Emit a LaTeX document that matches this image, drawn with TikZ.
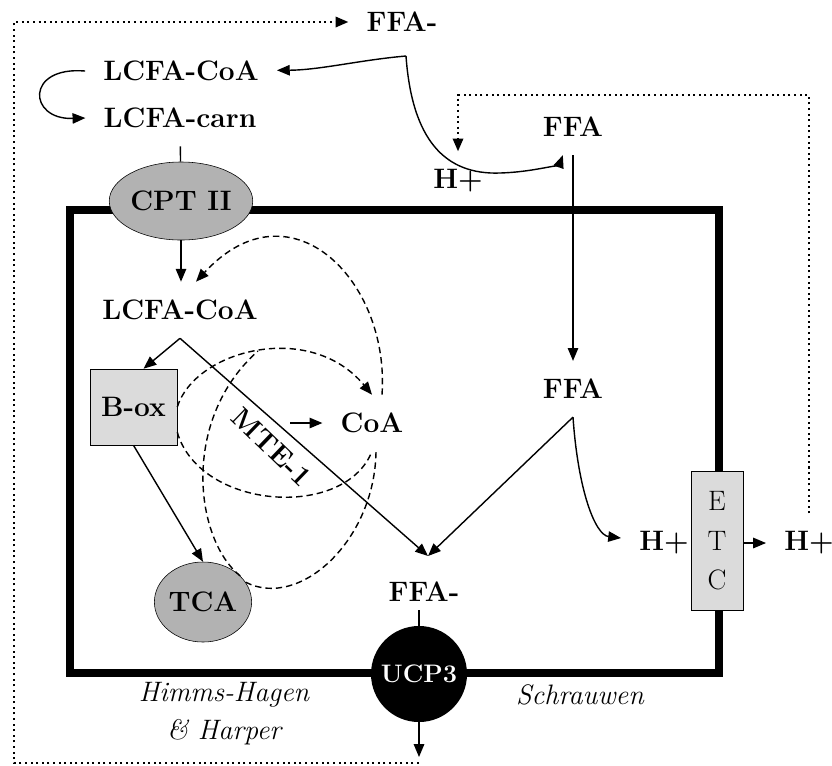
\documentclass[tikz,border=0pt]{standalone}
\usepackage{fontspec}
\usepackage{tikz}
\usetikzlibrary{positioning,arrows.meta,shapes.geometric}

\begin{document}
\begin{tikzpicture}[x=0.025cm,y=-0.025cm,>={Triangle[length=3.2mm,width=2.6mm]},
  lbl/.style={font=\bfseries\fontsize{20}{24}\selectfont,inner sep=4.5mm},
  note/.style={font=\itshape\fontsize{20}{27}\selectfont,align=center},
  flow/.style={line width=1pt},
  recyc/.style={line width=1pt,dash pattern=on 1.6mm off 1mm},
  loopline/.style={line width=1.5pt,dash pattern=on 0.5mm off 0.9mm},
  membrane/.style={line width=1.8mm},
  enzyme/.style={ellipse,draw,fill=black!30,font=\bfseries\fontsize{20}{24}\selectfont,inner sep=0pt},
  pathway/.style={rectangle,draw,fill=black!14,font=\bfseries\fontsize{20}{24}\selectfont}]
\useasboundingbox (0,0) rectangle (832,765);
\draw[membrane] (70,210) rectangle (719,673);

\node (ffatop) [lbl] at (402,22) {FFA-};
\node (lcoaout) [lbl] at (181,71) {LCFA-CoA};
\node (lcarn) [lbl] at (180,118) {LCFA-carn};
\node (cpt) [enzyme,minimum width=3cm,minimum height=1.95cm] at (181,201) {CPT II};
\node (lcoain) [lbl] at (180,310) {LCFA-CoA};
\node (box) [pathway,minimum width=2.175cm,minimum height=1.9cm] at (133.5,407) {B-ox};
\node (coa) [lbl] at (372,423) {CoA};
\node (mte) [lbl,inner sep=0pt,rotate=-44] at (272,447) {MTE-1};
\node (tca) [enzyme,minimum width=2.25cm,minimum height=2cm] at (203,602) {TCA};
\node (ffaout) [lbl] at (573,127) {FFA};
\node (hout) [lbl] at (458,181) {H+};
\node (ffain) [lbl] at (573,389) {FFA};
\node (ffam) [lbl,inner ysep=2mm] at (424,592) {FFA-};
\node (ucp) [circle,fill=black,text=white,font=\bfseries\fontsize{18}{22}\selectfont,minimum size=2.4cm,inner sep=0pt] at (419,674) {UCP3};
\node (hin) [lbl] at (664,543) {H+};
\node (etc) [pathway,font=\fontsize{20}{28}\selectfont,align=center,minimum width=1.3cm,minimum height=3.475cm] at (717,541) {E\\T\\C};
\node (hright) [lbl] at (809,543) {H+};
\node (hh) [note] at (224,714) {Himms-Hagen\\\& Harper};
\node (schr) [note] at (580,695) {Schrauwen};

\coordinate (fork) at (406,56);
\coordinate (ucpout) at (419,757);
\coordinate (ucpdot) at (419,763);
\coordinate (dotcorner) at (14,22);
\coordinate (etcup) at (809,95);
\coordinate (ffamtop) at (428,556);
\coordinate (mtearrow) at (290,423);
\coordinate (merge) at (258,351);

\draw[flow,->] (ucp) -- (ucpout);
\draw[loopline,->] (ucpdot) -| (dotcorner) -- (ffatop);
\draw[flow,->] (fork) .. controls (360,60) and (320,70) .. (lcoaout);
\draw[flow,->] (fork) .. controls (412,140) and (445,175) .. (500,173) .. controls (535,172) and (560,163) .. (ffaout);
\draw[flow,->] (ffaout) -- (ffain);
\draw[loopline,->] (hright) -- (etcup) -| (hout);
\draw[flow,->] (lcoaout.west) .. controls (25,66) and (28,120) .. (lcarn.west);
\draw[flow] (lcarn) -- (cpt);
\draw[flow,->] (cpt.south) -- (cpt.south |- lcoain.north);
\draw[flow,->] (lcoain.south) -- ([xshift=2.5mm]box.north);
\draw[flow,->] (lcoain.south) -- (ffamtop);
\draw[flow,->] (ffain.south) -- (ffamtop);
\draw[flow,->] (ffain.south) .. controls (578,490) and (595,535) .. (hin);
\draw[flow,->] (etc.east |- hright) -- (hright);
\draw[flow] (ffam.south -| ucp) -- (ucp);
\draw[flow,->] (box.south) -- (tca.north);
\draw[flow,->] (mtearrow) -- (coa);
\draw[recyc,->] ([xshift=2.5mm]coa.north) .. controls (390,280) and (290,180) .. ([xshift=4mm]lcoain.north);
\draw[recyc,->] (box.east) .. controls (195,350) and (310,320) .. (coa.north);
\draw[recyc] (tca.35) .. controls (195,540) and (180,420) .. (merge);
\draw[recyc] (box.-30) .. controls (200,510) and (345,520) .. (coa.south);
\draw[recyc] (tca.25) .. controls (300,610) and (375,540) .. ([xshift=1mm]coa.south);
\end{tikzpicture}
\end{document}
